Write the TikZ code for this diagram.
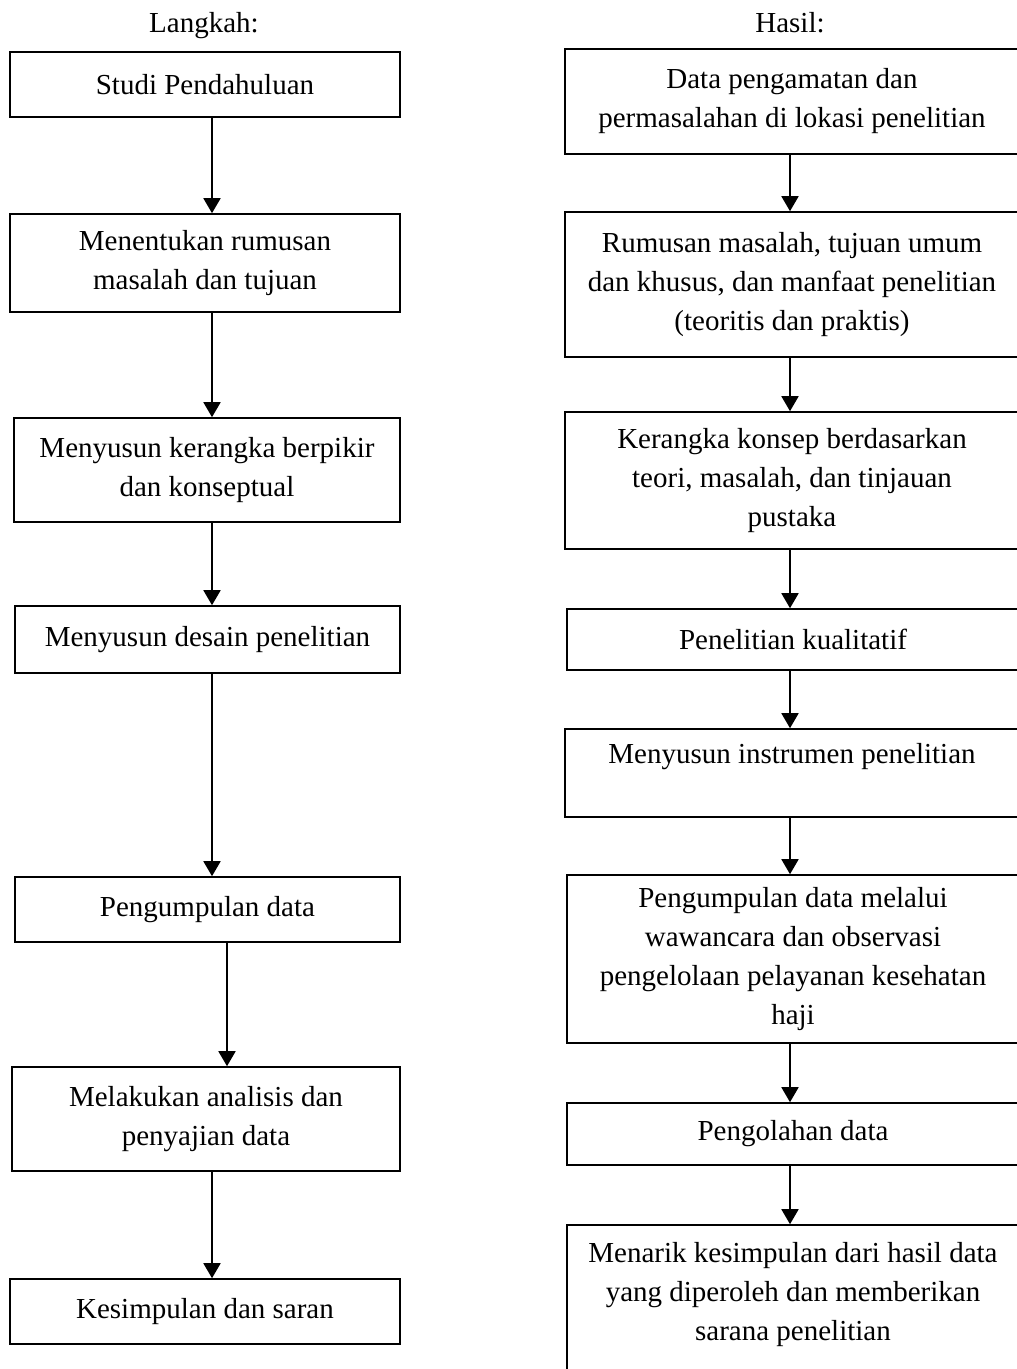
\documentclass[tikz,border=0pt]{standalone}
\usepackage{fontspec}
\setmainfont{Liberation Serif}
\usetikzlibrary{arrows.meta}
\begin{document}
\begin{tikzpicture}[x=1pt,y=-1pt,
  box/.style={draw=black,line width=1.6pt,inner sep=0pt,align=center,
    font=\fontsize{29pt}{39pt}\selectfont},
  ttl/.style={inner sep=0pt,anchor=base,font=\fontsize{29pt}{39pt}\selectfont},
  arr/.style={line width=1.8pt,-{Triangle[width=17pt,length=15pt]}}]
\useasboundingbox (0,0) rectangle (1017,1369);
\clip (0,0) rectangle (1017,1369);
\fill[white] (0,0) rectangle (1017,1369);
% titles
\node[ttl] (tl) at (204,32) {Langkah:};
\node[ttl] (tr) at (790,32) {Hasil:};
% left column
\node[box,minimum width=390pt,minimum height=65pt] (b1) at (205,84.5) {Studi Pendahuluan};
\node[box,minimum width=390pt,minimum height=98pt] (b2) at (205,263) {Menentukan rumusan\\masalah dan tujuan};
\node[box,minimum width=386pt,minimum height=104pt] (b3) at (207,470) {Menyusun kerangka berpikir\\dan konseptual};
\node[box,minimum width=385pt,minimum height=67pt] (b4) at (207.5,639.5) {Menyusun desain penelitian};
\node[box,minimum width=385pt,minimum height=65pt] (b5) at (207.5,909.5) {Pengumpulan data};
\node[box,minimum width=388pt,minimum height=104pt] (b6) at (206,1119) {Melakukan analisis dan\\penyajian data};
\node[box,minimum width=390pt,minimum height=65pt] (b7) at (205,1311.5) {Kesimpulan dan saran};
% right column
\node[box,minimum width=454pt,minimum height=105pt] (r1) at (792,101.5) {Data pengamatan dan\\permasalahan di lokasi penelitian};
\node[box,minimum width=454pt,minimum height=145pt] (r2) at (792,284.5) {Rumusan masalah, tujuan umum\\dan khusus, dan manfaat penelitian\\(teoritis dan praktis)};
\node[box,minimum width=454pt,minimum height=137pt] (r3) at (792,480.5) {Kerangka konsep berdasarkan\\teori, masalah, dan tinjauan\\pustaka};
\node[box,minimum width=452pt,minimum height=61pt] (r4) at (793,639.5) {Penelitian kualitatif};
\node[box,minimum width=454pt,minimum height=88pt] (r5) at (792,773) {Menyusun instrumen penelitian\\\mbox{}};
\node[box,minimum width=452pt,minimum height=168pt] (r6) at (793,959) {Pengumpulan data melalui\\wawancara dan observasi\\pengelolaan pelayanan kesehatan\\haji};
\node[box,minimum width=452pt,minimum height=62pt] (r7) at (793,1134) {Pengolahan data};
\node[box,minimum width=452pt,minimum height=171pt] (r8) at (793,1310.5) {Menarik kesimpulan dari hasil data\\yang diperoleh dan memberikan\\sarana penelitian\\\mbox{}};
% connector columns
\coordinate (lx) at (212,0);
\coordinate (lx2) at (227,0);
\coordinate (rx) at (790,0);
\draw[arr] (b1.south -| lx) -- (b2.north -| lx);
\draw[arr] (b2.south -| lx) -- (b3.north -| lx);
\draw[arr] (b3.south -| lx) -- (b4.north -| lx);
\draw[arr] (b4.south -| lx) -- (b5.north -| lx);
\draw[arr] (b5.south -| lx2) -- (b6.north -| lx2);
\draw[arr] (b6.south -| lx) -- (b7.north -| lx);
\draw[arr] (r1.south -| rx) -- (r2.north -| rx);
\draw[arr] (r2.south -| rx) -- (r3.north -| rx);
\draw[arr] (r3.south -| rx) -- (r4.north -| rx);
\draw[arr] (r4.south -| rx) -- (r5.north -| rx);
\draw[arr] (r5.south -| rx) -- (r6.north -| rx);
\draw[arr] (r6.south -| rx) -- (r7.north -| rx);
\draw[arr] (r7.south -| rx) -- (r8.north -| rx);
\end{tikzpicture}
\end{document}
